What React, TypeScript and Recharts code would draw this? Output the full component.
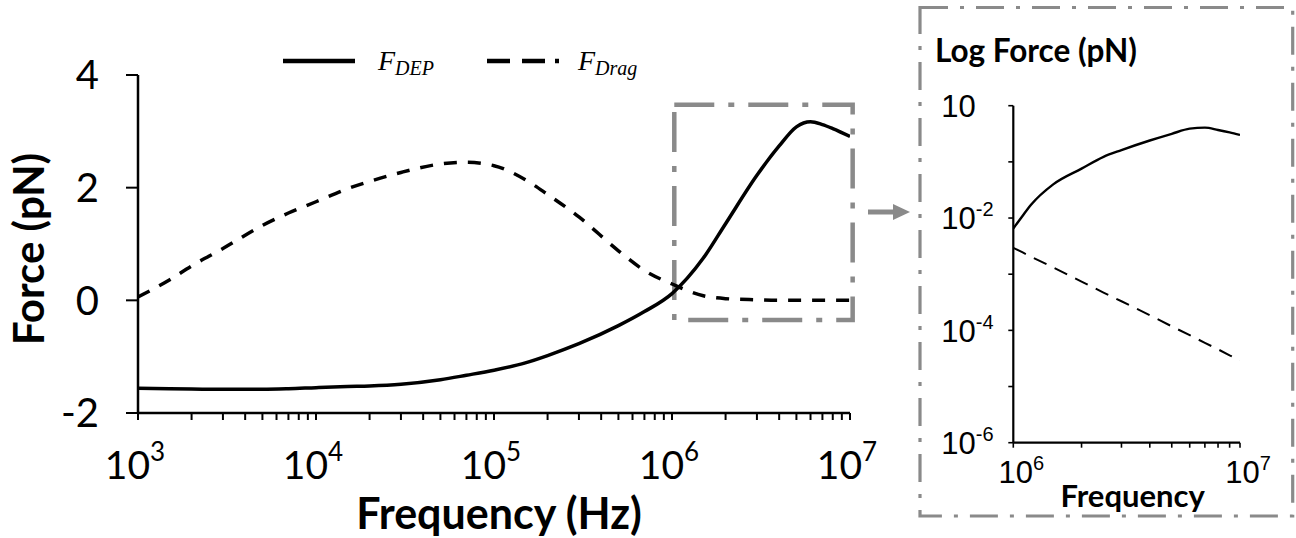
import { Label, Line, LineChart, ReferenceArea, XAxis, YAxis } from "recharts"

// main panel: force vs frequency (linear force, log frequency)
const mainFreq = [1e3, 1.5e3, 2e3, 3e3, 5e3, 7e3, 1e4, 1.5e4, 2e4, 3e4, 5e4, 7e4, 1e5, 1.5e5, 2e5, 3e5, 5e5, 7e5, 1e6, 1.5e6, 2e6, 3e6, 4e6, 5e6, 6e6, 7e6, 8e6, 1e7]
const depForce = [-1.56, -1.57, -1.575, -1.58, -1.58, -1.57, -1.55, -1.53, -1.52, -1.49, -1.41, -1.33, -1.24, -1.11, -0.98, -0.77, -0.45, -0.2, 0.12, 0.75, 1.36, 2.22, 2.74, 3.08, 3.17, 3.12, 3.05, 2.91]
const dragForce = [0.06, 0.36, 0.61, 0.92, 1.33, 1.55, 1.75, 1.98, 2.11, 2.27, 2.42, 2.45, 2.39, 2.14, 1.88, 1.48, 0.88, 0.53, 0.29, 0.08, 0.03, 0.01, 0, 0, 0, 0, 0, 0]

// zoomed panel: log force between 1 and 10 MHz
const insetFreq = [1e6, 1.1e6, 1.2e6, 1.5e6, 2e6, 2.5e6, 3e6, 4e6, 5e6, 6e6, 7e6, 8e6, 9e6, 1e7]
const insetDep = [6.5e-3, 0.011, 0.0174, 0.0398, 0.0759, 0.123, 0.162, 0.24, 0.316, 0.39, 0.407, 0.37, 0.335, 0.302]
const insetDrag = [2.95e-3, 2.44e-3, 2.04e-3, 1.32e-3, 7.4e-4, 4.7e-4, 3.3e-4, 1.86e-4, 1.18e-4, 8.2e-5, 6.0e-5, 4.6e-5, 3.6e-5, 2.95e-5]

const mainDecades = [1e3, 1e4, 1e5, 1e6, 1e7]
const forceTicks = [-2, 0, 2, 4]
const insetDecades = [1e6, 1e7]
const insetYTicks = [1e-6, 1e-5, 1e-4, 1e-3, 1e-2, 1e-1, 1]
const insetYLabels: Record<string, [string, string]> = {
  "-6": ["10", "-6"],
  "-4": ["10", "-4"],
  "-2": ["10", "-2"],
  "0": ["10", ""],
}
const zoomBox = { f1: 1.03e6, f2: 1.035e7, lo: -0.35, hi: 3.47 }

const GRAY = "#8a8a8a"
const CAL = "Lato, 'Open Sans', sans-serif"
const ARIAL = "'Liberation Sans', Arial, sans-serif"

const minorMult = [2, 3, 4, 5, 6, 7, 8, 9]
const withMinors = (decades: number[]) =>
  decades.flatMap((d, i) => (i < decades.length - 1 ? [d, ...minorMult.map((m) => d * m)] : [d]))

const mainData = mainFreq.map((f, i) => ({ f, dep: depForce[i], drag: dragForce[i] }))
const insetData = insetFreq.map((f, i) => ({ f, dep: insetDep[i], drag: insetDrag[i] }))

const isDecade = (v: number) => Math.abs(Math.log10(v) - Math.round(Math.log10(v))) < 1e-6

function MainXTick({ x, y, payload }: any) {
  if (!isDecade(payload.value)) return <g />
  const exp = Math.round(Math.log10(payload.value))
  return (
    <text x={x - 3} y={y + 57} textAnchor="middle" fontFamily={CAL} fontSize={39} fill="#000">
      10
      <tspan dy={-18} fontSize={26}>{exp}</tspan>
    </text>
  )
}

function MainYTick({ x, y, payload }: any) {
  return (
    <text x={x - 25} y={y} dy="0.36em" textAnchor="end" fontFamily={CAL} fontSize={40} fill="#000">
      {payload.value}
    </text>
  )
}

function InsetXTick({ x, y, payload }: any) {
  if (!isDecade(payload.value)) return <g />
  const exp = Math.round(Math.log10(payload.value))
  return (
    <text x={x + 8} y={y + 33} textAnchor="middle" fontFamily={ARIAL} fontSize={31} fill="#000">
      10
      <tspan dy={-13} fontSize={20}>{exp}</tspan>
    </text>
  )
}

function InsetYTick({ x, y, payload }: any) {
  const key = String(Math.round(Math.log10(payload.value)))
  const lab = insetYLabels[key]
  if (!lab) return <g />
  return (
    <text x={x - 65} y={y} dy="0.36em" textAnchor="start" fontFamily={ARIAL} fontSize={31} fill="#000">
      {lab[0]}
      {lab[1] && <tspan dy={-13} fontSize={20}>{lab[1]}</tspan>}
    </text>
  )
}

function MainChart() {
  return (
    <LineChart width={900} height={538} data={mainData} margin={{ top: 75, right: 50, bottom: 0, left: 0 }}>
      <XAxis
        dataKey="f"
        type="number"
        scale="log"
        domain={[1e3, 1e7]}
        allowDataOverflow
        ticks={withMinors(mainDecades)}
        interval={0}
        height={125}
        tickSize={7}
        tick={MainXTick}
        axisLine={{ stroke: "#000", strokeWidth: 2.5 }}
        tickLine={{ stroke: "#000", strokeWidth: 2 }}
      >
        <Label
          content={({ viewBox }: any) => (
            <text
              x={viewBox.x + viewBox.width / 2 + 5}
              y={viewBox.y + 116}
              textAnchor="middle"
              fontFamily={CAL}
              fontWeight={700}
              fontSize={43}
              fill="#000"
            >
              Frequency (Hz)
            </text>
          )}
        />
      </XAxis>
      <YAxis
        type="number"
        domain={[-2, 4]}
        ticks={forceTicks}
        interval={0}
        width={138}
        tickSize={12}
        tick={MainYTick}
        axisLine={{ stroke: "#000", strokeWidth: 2.5 }}
        tickLine={{ stroke: "#000", strokeWidth: 2 }}
      >
        <Label
          content={({ viewBox }: any) => {
            const cx = 44
            const cy = viewBox.y + viewBox.height / 2 + 5
            return (
              <text
                x={cx}
                y={cy}
                transform={`rotate(-90 ${cx} ${cy})`}
                textAnchor="middle"
                fontFamily={CAL}
                fontWeight={700}
                fontSize={42}
                fill="#000"
              >
                Force (pN)
              </text>
            )
          }}
        />
      </YAxis>
      <Line dataKey="drag" type="monotone" stroke="#000" strokeWidth={3.5} strokeDasharray="13 11" dot={false} isAnimationActive={false} />
      <Line dataKey="dep" type="monotone" stroke="#000" strokeWidth={3.5} dot={false} isAnimationActive={false} />
      <ReferenceArea
        x1={zoomBox.f1}
        x2={zoomBox.f2}
        y1={zoomBox.lo}
        y2={zoomBox.hi}
        ifOverflow="visible"
        fill="none"
        fillOpacity={0}
        stroke={GRAY}
        strokeWidth={4.5}
        strokeDasharray="40 14 6 14"
      />
    </LineChart>
  )
}

function InsetChart() {
  return (
    <LineChart width={380} height={538} data={insetData} margin={{ top: 105.7, right: 56, bottom: 0, left: 0 }}>
      <XAxis
        dataKey="f"
        type="number"
        scale="log"
        domain={[1e6, 1e7]}
        allowDataOverflow
        ticks={withMinors(insetDecades)}
        interval={0}
        height={95.3}
        tickSize={5}
        tick={InsetXTick}
        axisLine={{ stroke: "#000", strokeWidth: 2.2 }}
        tickLine={{ stroke: "#000", strokeWidth: 1.6 }}
      >
        <Label
          content={({ viewBox }: any) => (
            <text
              x={viewBox.x + viewBox.width / 2 + 6}
              y={viewBox.y + 64}
              textAnchor="middle"
              fontFamily={CAL}
              fontWeight={700}
              fontSize={31}
              fill="#000"
            >
              Frequency
            </text>
          )}
        />
      </XAxis>
      <YAxis
        type="number"
        scale="log"
        domain={[1e-6, 1]}
        allowDataOverflow
        ticks={insetYTicks}
        interval={0}
        width={97.3}
        tickSize={5}
        tick={InsetYTick}
        axisLine={{ stroke: "#000", strokeWidth: 2.2 }}
        tickLine={{ stroke: "#000", strokeWidth: 1.6 }}
      />
      <Line dataKey="drag" type="linear" stroke="#000" strokeWidth={2} strokeDasharray="14 9" dot={false} isAnimationActive={false} />
      <Line dataKey="dep" type="monotone" stroke="#000" strokeWidth={2.4} dot={false} isAnimationActive={false} />
    </LineChart>
  )
}

// legend, arrow and the frame around the zoomed panel
function Overlay() {
  return (
    <svg width={1296} height={538} style={{ position: "absolute", left: 0, top: 0, pointerEvents: "none" }}>
      <line x1={283} y1={61} x2={355} y2={61} stroke="#000" strokeWidth={4.5} />
      <text x={378} y={70} fontFamily="'Liberation Serif', 'DejaVu Serif', serif" fontStyle="italic" fontSize={28} fill="#000">
        F<tspan dy={5} fontSize={20}>DEP</tspan>
      </text>
      <line x1={487} y1={61} x2={560} y2={61} stroke="#000" strokeWidth={4.5} strokeDasharray="23 12 23 10 4 100" />
      <text x={578} y={70} fontFamily="'Liberation Serif', 'DejaVu Serif', serif" fontStyle="italic" fontSize={28} fill="#000">
        F<tspan dy={5} fontSize={20}>Drag</tspan>
      </text>

      <line x1={868} y1={212} x2={895} y2={212} stroke={GRAY} strokeWidth={5} />
      <polygon points="893,204 910,212 893,220" fill={GRAY} />

      <rect x={920} y={7.5} width={372.7} height={508.5} fill="none" stroke={GRAY} strokeWidth={3.2} strokeDasharray="28 12 4 12" />
      <text x={935} y={61.5} fontFamily={CAL} fontWeight={700} fontSize={31.5} fill="#000">
        Log Force (pN)
      </text>
    </svg>
  )
}

export default function App() {
  return (
    <div style={{ position: "absolute", left: 0, top: 0, width: 1296, height: 538, background: "#fff", overflow: "hidden" }}>
      <div style={{ position: "absolute", left: 0, top: 0 }}>
        <MainChart />
      </div>
      <div style={{ position: "absolute", left: 916, top: 0 }}>
        <InsetChart />
      </div>
      <Overlay />
    </div>
  )
}
